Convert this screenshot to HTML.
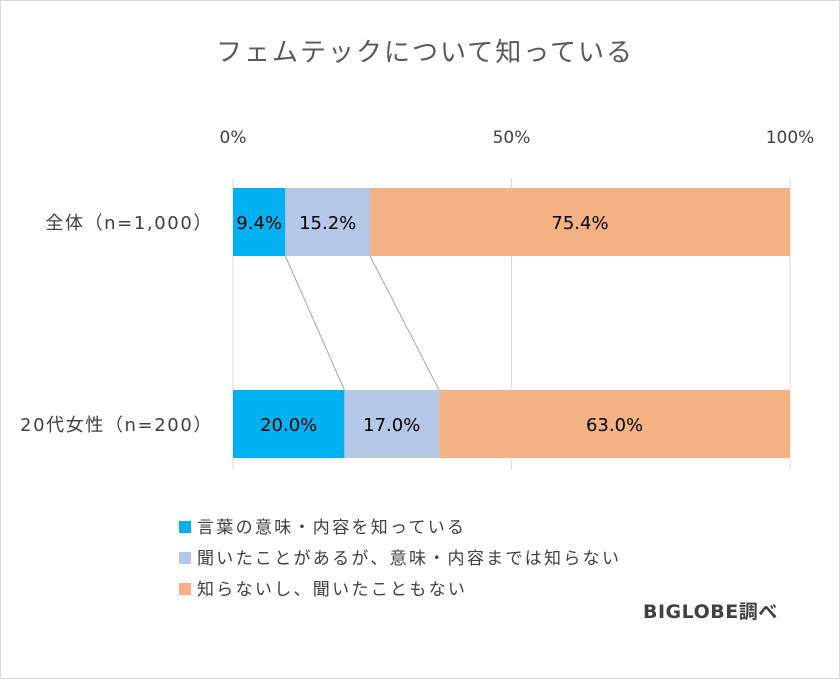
<!DOCTYPE html>
<html><head><meta charset="utf-8"><style>
body{margin:0;background:#fff;}
svg text{font-family:"DejaVu Sans","Noto Sans CJK JP",sans-serif;}
</style></head><body>
<svg width="840" height="679" xmlns="http://www.w3.org/2000/svg" id="chart">
<rect x="0.5" y="0.5" width="839" height="678" fill="#fff" stroke="#d9d9d9"/>
<text x="425" y="61" font-size="26" fill="#595959" text-anchor="middle" letter-spacing="2">フェムテックについて知っている</text>
<g id="grid"></g><g id="ticks"></g><g id="conn"></g><g id="bars"></g><g id="cats"></g>
<g id="legend"></g>
<text x="643" y="618" font-size="19" font-weight="bold" fill="#404040" letter-spacing="0.5">BIGLOBE調べ</text>
</svg>
<script>
const categories=["全体（n=1,000）","20代女性（n=200）"];
const seriesNames=["言葉の意味・内容を知っている","聞いたことがあるが、意味・内容までは知らない","知らないし、聞いたこともない"];
const know=[9.4,20.0];
const heard=[15.2,17.0];
const unknown=[75.4,63.0];
const tickValues=[0,50,100];
const colors=["#00b0f0","#b4c7e7","#f4b183"];
const NS="http://www.w3.org/2000/svg";
const x0=233,x1=790,barTops=[188,390],barH=68;
const xs=v=>x0+(x1-x0)*v/100;
function mk(tag,attrs,parent,text){const e=document.createElementNS(NS,tag);for(const k in attrs)e.setAttribute(k,attrs[k]);if(text!=null)e.textContent=text;document.getElementById(parent).appendChild(e);return e;}
tickValues.forEach(t=>{
 const g=mk("line",{x1:xs(t),x2:xs(t),y1:178,y2:470,stroke:"#d9d9d9","stroke-width":1},"grid");
 
 
 const l=mk("text",{x:xs(t),y:143,"font-size":17,fill:"#404040","text-anchor":"middle"},"ticks",t+"%");
 
 
});
const series=[know,heard,unknown];
categories.forEach((c,i)=>{
 let acc=0;
 series.forEach((s,j)=>{
  const v=s[i];
  const r=mk("rect",{x:xs(acc),y:barTops[i],width:xs(acc+v)-xs(acc),height:barH,fill:colors[j]},"bars");
  
  
  const t=mk("text",{x:(xs(acc)+xs(acc+v))/2,y:barTops[i]+barH/2+7,"font-size":18,fill:"#000","text-anchor":"middle"},"bars",v.toFixed(1)+"%");
  
  
  acc+=v;
 });
 const cl=mk("text",{x:213,y:barTops[i]+barH/2+7,"font-size":18,fill:"#404040","text-anchor":"end","letter-spacing":"1.6"},"cats",c);
 
 
});
[know,heard].reduce((cum,s)=>{
 const a=cum[0]+s[0],b=cum[1]+s[1];
 const l=mk("line",{x1:xs(a),y1:barTops[0]+barH,x2:xs(b),y2:barTops[1],stroke:"#a6a6a6","stroke-width":1},"conn");
 
 
 return [a,b];
},[0,0]);
seriesNames.forEach((n,j)=>{
 const y=527+j*31;
 const r=mk("rect",{x:179,y:y-6,width:12,height:12,fill:colors[j]},"legend");
 
 
 const t=mk("text",{x:197,y:y+6,"font-size":17,fill:"#404040","letter-spacing":"2.3"},"legend",n);
 
 
});
</script>
</body></html>
